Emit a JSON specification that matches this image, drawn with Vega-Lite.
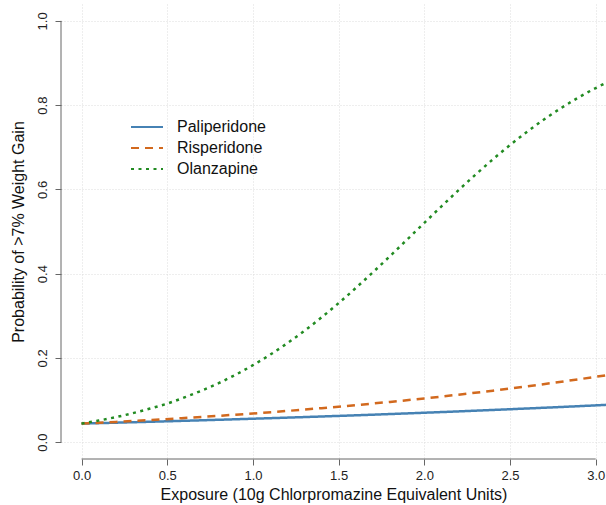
{
  "$schema": "https://vega.github.io/schema/vega-lite/v6.json",
  "width": 545,
  "height": 455,
  "autosize": {"type": "none"},
  "padding": {"left": 61, "top": 4, "right": 0, "bottom": 46},
  "background": "white",
  "config": {"view": {"stroke": null}, "font": "Liberation Sans"},
  "datasets": {
    "curves": [
      {"drug": "Paliperidone", "exposure": 0.0, "prob": 0.0440},
      {"drug": "Paliperidone", "exposure": 0.2, "prob": 0.0462},
      {"drug": "Paliperidone", "exposure": 0.4, "prob": 0.0484},
      {"drug": "Paliperidone", "exposure": 0.6, "prob": 0.0507},
      {"drug": "Paliperidone", "exposure": 0.8, "prob": 0.0531},
      {"drug": "Paliperidone", "exposure": 1.0, "prob": 0.0556},
      {"drug": "Paliperidone", "exposure": 1.2, "prob": 0.0582},
      {"drug": "Paliperidone", "exposure": 1.4, "prob": 0.0609},
      {"drug": "Paliperidone", "exposure": 1.6, "prob": 0.0637},
      {"drug": "Paliperidone", "exposure": 1.8, "prob": 0.0667},
      {"drug": "Paliperidone", "exposure": 2.0, "prob": 0.0698},
      {"drug": "Paliperidone", "exposure": 2.2, "prob": 0.0730},
      {"drug": "Paliperidone", "exposure": 2.4, "prob": 0.0764},
      {"drug": "Paliperidone", "exposure": 2.6, "prob": 0.0799},
      {"drug": "Paliperidone", "exposure": 2.8, "prob": 0.0835},
      {"drug": "Paliperidone", "exposure": 3.0, "prob": 0.0873},
      {"drug": "Paliperidone", "exposure": 3.1, "prob": 0.0893},
      {"drug": "Risperidone", "exposure": 0.0, "prob": 0.0440},
      {"drug": "Risperidone", "exposure": 0.2, "prob": 0.0480},
      {"drug": "Risperidone", "exposure": 0.4, "prob": 0.0524},
      {"drug": "Risperidone", "exposure": 0.6, "prob": 0.0573},
      {"drug": "Risperidone", "exposure": 0.8, "prob": 0.0625},
      {"drug": "Risperidone", "exposure": 1.0, "prob": 0.0681},
      {"drug": "Risperidone", "exposure": 1.2, "prob": 0.0741},
      {"drug": "Risperidone", "exposure": 1.4, "prob": 0.0807},
      {"drug": "Risperidone", "exposure": 1.6, "prob": 0.0879},
      {"drug": "Risperidone", "exposure": 1.8, "prob": 0.0955},
      {"drug": "Risperidone", "exposure": 2.0, "prob": 0.1038},
      {"drug": "Risperidone", "exposure": 2.2, "prob": 0.1127},
      {"drug": "Risperidone", "exposure": 2.4, "prob": 0.1222},
      {"drug": "Risperidone", "exposure": 2.6, "prob": 0.1325},
      {"drug": "Risperidone", "exposure": 2.8, "prob": 0.1434},
      {"drug": "Risperidone", "exposure": 3.0, "prob": 0.1551},
      {"drug": "Risperidone", "exposure": 3.1, "prob": 0.1612},
      {"drug": "Olanzapine", "exposure": 0.0, "prob": 0.0440},
      {"drug": "Olanzapine", "exposure": 0.1, "prob": 0.0512},
      {"drug": "Olanzapine", "exposure": 0.2, "prob": 0.0594},
      {"drug": "Olanzapine", "exposure": 0.3, "prob": 0.0689},
      {"drug": "Olanzapine", "exposure": 0.4, "prob": 0.0797},
      {"drug": "Olanzapine", "exposure": 0.5, "prob": 0.0915},
      {"drug": "Olanzapine", "exposure": 0.6, "prob": 0.1062},
      {"drug": "Olanzapine", "exposure": 0.7, "prob": 0.1222},
      {"drug": "Olanzapine", "exposure": 0.8, "prob": 0.1401},
      {"drug": "Olanzapine", "exposure": 0.9, "prob": 0.1603},
      {"drug": "Olanzapine", "exposure": 1.0, "prob": 0.1827},
      {"drug": "Olanzapine", "exposure": 1.1, "prob": 0.2075},
      {"drug": "Olanzapine", "exposure": 1.2, "prob": 0.2347},
      {"drug": "Olanzapine", "exposure": 1.3, "prob": 0.2643},
      {"drug": "Olanzapine", "exposure": 1.4, "prob": 0.2961},
      {"drug": "Olanzapine", "exposure": 1.5, "prob": 0.3300},
      {"drug": "Olanzapine", "exposure": 1.6, "prob": 0.3659},
      {"drug": "Olanzapine", "exposure": 1.7, "prob": 0.4032},
      {"drug": "Olanzapine", "exposure": 1.8, "prob": 0.4417},
      {"drug": "Olanzapine", "exposure": 1.9, "prob": 0.4810},
      {"drug": "Olanzapine", "exposure": 2.0, "prob": 0.5205},
      {"drug": "Olanzapine", "exposure": 2.1, "prob": 0.5597},
      {"drug": "Olanzapine", "exposure": 2.2, "prob": 0.5982},
      {"drug": "Olanzapine", "exposure": 2.3, "prob": 0.6355},
      {"drug": "Olanzapine", "exposure": 2.4, "prob": 0.6713},
      {"drug": "Olanzapine", "exposure": 2.5, "prob": 0.7052},
      {"drug": "Olanzapine", "exposure": 2.6, "prob": 0.7369},
      {"drug": "Olanzapine", "exposure": 2.7, "prob": 0.7664},
      {"drug": "Olanzapine", "exposure": 2.8, "prob": 0.7935},
      {"drug": "Olanzapine", "exposure": 2.9, "prob": 0.8182},
      {"drug": "Olanzapine", "exposure": 3.0, "prob": 0.8405},
      {"drug": "Olanzapine", "exposure": 3.1, "prob": 0.8606}
    ]
  },
  "layer": [
    {
      "data": {"name": "curves"},
      "mark": {"type": "line", "strokeWidth": 2.5, "interpolate": "monotone", "clip": true},
      "encoding": {
        "x": {
          "field": "exposure", "type": "quantitative",
          "scale": {"domain": [-0.12, 3.06], "nice": false, "zero": false},
          "axis": {
            "values": [0, 0.5, 1, 1.5, 2, 2.5, 3], "format": ".1f",
            "domain": false, "tickSize": 6, "tickColor": "#666666", "tickWidth": 1,
            "labelFontSize": 13, "labelColor": "#222222", "labelPadding": 4, "labelFont": "Liberation Sans",
            "title": "Exposure (10g Chlorpromazine Equivalent Units)",
            "titleFontSize": 16, "titleFontWeight": "normal", "titleColor": "#111111", "titlePadding": 4, "titleFont": "Liberation Sans",
            "grid": true, "gridColor": "#dcdcdc", "gridDash": [1, 2], "gridWidth": 1
          }
        },
        "y": {
          "field": "prob", "type": "quantitative",
          "scale": {"domain": [-0.04, 1.04], "nice": false, "zero": false},
          "axis": {
            "values": [0, 0.2, 0.4, 0.6, 0.8, 1.0], "format": ".1f",
            "domain": false, "tickSize": 6, "tickColor": "#666666", "tickWidth": 1,
            "labelFontSize": 13, "labelColor": "#222222", "labelPadding": 6, "labelFont": "Liberation Sans",
            "labelAngle": -90, "labelAlign": "center", "labelBaseline": "bottom",
            "title": "Probability of >7% Weight Gain",
            "titleFontSize": 16, "titleFontWeight": "normal", "titleColor": "#111111", "titlePadding": 10, "titleFont": "Liberation Sans",
            "grid": true, "gridColor": "#dcdcdc", "gridDash": [1, 2], "gridWidth": 1
          }
        },
        "color": {
          "field": "drug", "type": "nominal",
          "scale": {"domain": ["Paliperidone", "Risperidone", "Olanzapine"], "range": ["#4682B4", "#D2691E", "#228B22"]},
          "legend": {
            "title": null, "orient": "none", "legendX": 75, "legendY": 112,
            "symbolType": "M-1.6,0H1.6", "symbolSize": 400, "symbolStrokeWidth": 2,
            "labelFontSize": 16, "labelOffset": 19, "labelColor": "#111111", "labelFont": "Liberation Sans",
            "rowPadding": 2, "padding": 0
          }
        },
        "strokeDash": {
          "field": "drug", "type": "nominal",
          "scale": {"domain": ["Paliperidone", "Risperidone", "Olanzapine"], "range": [[1, 0], [8, 6], [3, 4.5]]},
          "legend": {
            "title": null, "orient": "none", "legendX": 75, "legendY": 112,
            "symbolType": "M-1.6,0H1.6", "symbolSize": 400, "symbolStrokeWidth": 2,
            "labelFontSize": 16, "labelOffset": 19, "labelColor": "#111111", "labelFont": "Liberation Sans",
            "rowPadding": 2, "padding": 0
          }
        }
      }
    },
    {
      "data": {"values": [{}]},
      "mark": {"type": "rule", "color": "#666666", "strokeWidth": 1},
      "encoding": {"x": {"datum": 0}, "x2": {"datum": 3}, "y": {"datum": -0.04}}
    },
    {
      "data": {"values": [{}]},
      "mark": {"type": "rule", "color": "#666666", "strokeWidth": 1},
      "encoding": {"y": {"datum": 0}, "y2": {"datum": 1}, "x": {"datum": -0.12}}
    }
  ]
}
